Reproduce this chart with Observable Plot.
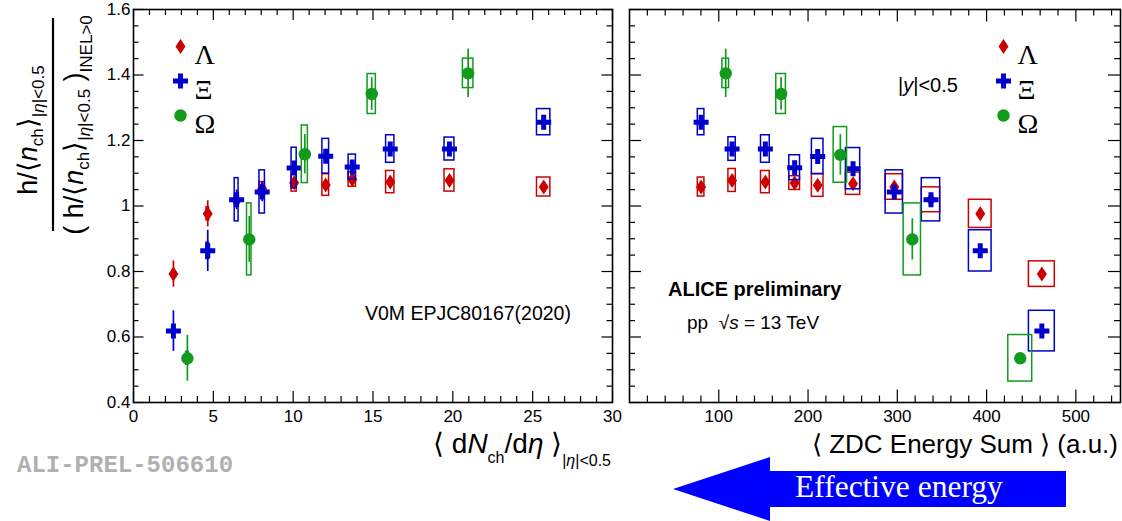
<!DOCTYPE html>
<html>
<head>
<meta charset="utf-8">
<script src="https://cdn.jsdelivr.net/npm/d3@7"></script>
<script src="https://cdn.jsdelivr.net/npm/@observablehq/plot@0.6"></script>
<style>
  html, body { margin: 0; padding: 0; background: #fff; }
  #chart { position: relative; width: 1122px; height: 521px; overflow: hidden; }
  #chart svg { position: absolute; }
</style>
</head>
<body>
<div id="chart"></div>
<script>
// ---- Strange hadron yields per charged particle, normalised to INEL>0 ----

// Left panel: V0M multiplicity classes, <dNch/deta> in |eta|<0.5
const v0mX    = [2.5, 4.65, 6.46, 8.06, 10.06, 12.04, 13.7, 16.08, 19.79, 25.69];
const v0mXErr = [0.05, 0.08, 0.12, 0.17, 0.16, 0.21, 0.23, 0.26, 0.31, 0.42];

const lambdaMultY    = [0.792, 0.976, 1.017, 1.053, 1.071, 1.064, 1.081, 1.073, 1.078, 1.058];
const lambdaMultStat = [0.040, 0.040, 0.020, 0.015, 0.010, 0.010, 0.010, 0.010, 0.010, 0.010];
const lambdaMultSys  = [0.012, 0.020, 0.020, 0.020, 0.027, 0.033, 0.022, 0.034, 0.034, 0.029];

const xiMultY    = [0.618, 0.863, 1.019, 1.043, 1.116, 1.152, 1.119, 1.174, 1.174, 1.256];
const xiMultStat = [0.062, 0.063, 0.030, 0.030, 0.020, 0.020, 0.020, 0.020, 0.020, 0.020];
const xiMultSys  = [0.015, 0.025, 0.066, 0.066, 0.062, 0.053, 0.038, 0.042, 0.035, 0.040];

const omegaMultX    = [3.375, 7.25, 10.73, 14.92, 20.96];
const omegaMultXErr = [0.08, 0.14, 0.19, 0.26, 0.33];
const omegaMultY    = [0.535, 0.898, 1.158, 1.342, 1.405];
const omegaMultStat = [0.070, 0.070, 0.060, 0.050, 0.074];
const omegaMultSys  = [0.020, 0.110, 0.088, 0.061, 0.045];

// Right panel: ZDC energy classes, <ZDC energy sum> (a.u.)
const zdcX    = [80.2, 114.9, 152.2, 185.0, 210.8, 250.4, 296.6, 337.7, 392.9, 461.9];
const zdcXErr = [3.7, 4.1, 4.9, 6.0, 6.5, 8.0, 9.7, 10.3, 12.7, 14.5];

const lambdaZdcY    = [1.058, 1.078, 1.073, 1.070, 1.063, 1.068, 1.058, 1.019, 0.976, 0.792];
const lambdaZdcStat = [0.010, 0.010, 0.010, 0.010, 0.010, 0.010, 0.010, 0.010, 0.012, 0.012];
const lambdaZdcSys  = [0.029, 0.035, 0.034, 0.021, 0.035, 0.034, 0.039, 0.038, 0.043, 0.039];

const xiZdcY    = [1.256, 1.174, 1.174, 1.117, 1.151, 1.114, 1.043, 1.019, 0.863, 0.618];
const xiZdcStat = [0.015, 0.015, 0.015, 0.015, 0.015, 0.015, 0.015, 0.015, 0.015, 0.015];
const xiZdcSys  = [0.040, 0.036, 0.042, 0.038, 0.054, 0.063, 0.066, 0.066, 0.063, 0.062];

const omegaZdcX    = [107.8, 169.8, 236.2, 316.8, 437.7];
const omegaZdcXErr = [3.7, 5.4, 7.5, 9.7, 13.4];
const omegaZdcY    = [1.405, 1.342, 1.156, 0.898, 0.535];
const omegaZdcStat = [0.074, 0.050, 0.062, 0.063, 0.015];
const omegaZdcSys  = [0.045, 0.061, 0.085, 0.110, 0.071];

// Axis ticks
const yMajor = [0.4, 0.6, 0.8, 1.0, 1.2, 1.4, 1.6];
const yMinor = d3.range(0.45, 1.6, 0.05).filter(v => Math.abs(v * 5 - Math.round(v * 5)) > 1e-6);
const multMajor = [0, 5, 10, 15, 20, 25, 30];
const multMinor = d3.range(1, 30).filter(v => v % 5 !== 0);
const zdcMajor = [100, 200, 300, 400, 500];
const zdcMinor = d3.range(20, 550, 20).filter(v => v % 100 !== 0);
const zdcLabels = [100, 200, 300, 400, 500];

const speciesNames = ["Λ", "Ξ", "Ω"];
const colors = ["#cc0000", "#0000cc", "#129a1c"];

const SANS = '"Liberation Sans", Arial, Helvetica, sans-serif';
const SERIF = '"Liberation Serif", "Times New Roman", serif';

// ROOT-like marker shapes (fixed pixel size)
const tallDiamond = { draw(c) { c.moveTo(0, -7.5); c.lineTo(5, 0); c.lineTo(0, 7.5); c.lineTo(-5, 0); c.closePath(); } };
const thickCross = { draw(c) {
  const L = 7.5, t = 2.5;
  c.moveTo(-t, -L); c.lineTo(t, -L); c.lineTo(t, -t); c.lineTo(L, -t); c.lineTo(L, t); c.lineTo(t, t);
  c.lineTo(t, L); c.lineTo(-t, L); c.lineTo(-t, t); c.lineTo(-L, t); c.lineTo(-L, -t); c.lineTo(-t, -t); c.closePath();
} };
const disc = { draw(c) { c.moveTo(6.2, 0); c.arc(0, 0, 6.2, 0, 2 * Math.PI); c.closePath(); } };
const symbols = [tallDiamond, thickCross, disc];

function rows(x, xe, y, stat, sys) {
  return x.map((v, i) => ({ x: v, xe: xe[i], y: y[i], stat: stat[i], sys: sys[i] }));
}

const multSeries = [
  rows(v0mX, v0mXErr, lambdaMultY, lambdaMultStat, lambdaMultSys),
  rows(v0mX, v0mXErr, xiMultY, xiMultStat, xiMultSys),
  rows(omegaMultX, omegaMultXErr, omegaMultY, omegaMultStat, omegaMultSys)
];
const zdcSeries = [
  rows(zdcX, zdcXErr, lambdaZdcY, lambdaZdcStat, lambdaZdcSys),
  rows(zdcX, zdcXErr, xiZdcY, xiZdcStat, xiZdcSys),
  rows(omegaZdcX, omegaZdcXErr, omegaZdcY, omegaZdcStat, omegaZdcSys)
];

function panel(o) {
  const fw = o.width - o.margin.left - o.margin.right;
  const fh = o.height - o.margin.top - o.margin.bottom;
  const marks = [];
  o.series.forEach((data, i) => {
    marks.push(Plot.rect(data, {
      x1: d => d.x - d.xe, x2: d => d.x + d.xe, y1: d => d.y - d.sys, y2: d => d.y + d.sys,
      fill: "none", stroke: colors[i], strokeWidth: 1.5
    }));
    marks.push(Plot.ruleX(data, { x: "x", y1: d => d.y - d.stat, y2: d => d.y + d.stat, stroke: colors[i], strokeWidth: 1.7 }));
    marks.push(Plot.dot(data, { x: "x", y: "y", symbol: symbols[i], r: 6, fill: colors[i], stroke: "none" }));
  });
  // legend
  speciesNames.forEach((name, i) => {
    marks.push(Plot.dot([name], { frameAnchor: "top-left", dx: o.legendDx, dy: 37 + 34.5 * i, symbol: symbols[i], r: 6, fill: colors[i], stroke: "none" }));
    marks.push(Plot.text([name], { frameAnchor: "top-left", dx: o.legendDx + 14, dy: 35 + 34.5 * i, textAnchor: "start", fontFamily: SERIF, fontSize: 28, fill: "black" }));
  });
  // frame and inward ticks on all four sides
  const tk = { stroke: "black", strokeWidth: 1.2 };
  marks.push(
    Plot.tickX(o.xMajor, { x: d => d, insetTop: fh - o.xMajorLen, ...tk }),
    Plot.tickX(o.xMajor, { x: d => d, insetBottom: fh - o.xMajorLen, ...tk }),
    Plot.tickX(o.xMinor, { x: d => d, insetTop: fh - o.xMinorLen, ...tk }),
    Plot.tickX(o.xMinor, { x: d => d, insetBottom: fh - o.xMinorLen, ...tk }),
    Plot.tickY(yMajor, { y: d => d, insetRight: fw - o.yMajorLen, ...tk }),
    Plot.tickY(yMajor, { y: d => d, insetLeft: fw - o.yMajorLen, ...tk }),
    Plot.tickY(yMinor, { y: d => d, insetRight: fw - o.yMinorLen, ...tk }),
    Plot.tickY(yMinor, { y: d => d, insetLeft: fw - o.yMinorLen, ...tk }),
    Plot.frame({ stroke: "black", strokeWidth: 1.6 }),
    Plot.axisX(o.xLabels, { anchor: "bottom", tickSize: 0, tickPadding: 7, fontSize: 17, label: null, tickFormat: d => String(d) })
  );
  if (o.yLabels) {
    marks.push(Plot.axisY(o.yLabels, { anchor: "left", tickSize: 0, tickPadding: 3, fontSize: 17, label: null, tickFormat: d => String(d) }));
  }
  const svg = Plot.plot({
    width: o.width, height: o.height,
    marginTop: o.margin.top, marginRight: o.margin.right, marginBottom: o.margin.bottom, marginLeft: o.margin.left,
    x: { domain: o.xDomain },
    y: { domain: [0.4, 1.6], axis: o.yLabels ? undefined : null },
    style: { fontFamily: SANS, color: "black", background: "transparent", overflow: "visible" },
    marks
  });
  svg.style.left = o.left + "px";
  svg.style.top = "0px";
  return svg;
}

const chart = document.getElementById("chart");

chart.appendChild(panel({
  left: 0, width: 620, height: 430, margin: { top: 9, right: 8, bottom: 28, left: 133 },
  xDomain: [0, 30], xMajor: multMajor, xMinor: multMinor, xLabels: multMajor, yLabels: yMajor,
  xMajorLen: 11, xMinorLen: 6, yMajorLen: 10.5, yMinorLen: 5.5,
  series: multSeries, legendDx: 47
}));

chart.appendChild(panel({
  left: 615, width: 507, height: 430, margin: { top: 9, right: 2, bottom: 28, left: 14 },
  xDomain: [0, 550], xMajor: zdcMajor, xMinor: zdcMinor, xLabels: zdcLabels, yLabels: null,
  xMajorLen: 12.5, xMinorLen: 6.5, yMajorLen: 12, yMinorLen: 6,
  series: zdcSeries, legendDx: 374
}));

// ---- titles, annotations and the energy arrow ----
const ov = d3.create("svg")
  .attr("width", 1122).attr("height", 521)
  .style("left", "0px").style("top", "0px")
  .attr("font-family", SANS).attr("fill", "black");

function rich(parent, x, y, parts, attrs = {}) {
  const t = parent.append("text").attr("x", x).attr("y", y).style("white-space", "pre");
  for (const [k, v] of Object.entries(attrs)) t.attr(k, v);
  for (const p of parts) {
    const s = t.append("tspan").text(p.t);
    if (p.size) s.attr("font-size", p.size);
    if (p.it) s.attr("font-style", "italic");
    if (p.dy) s.attr("dy", p.dy);
    if (p.dx) s.attr("dx", p.dx);
    if (p.font) s.attr("font-family", p.font);
  }
  return t;
}

// y-axis title: fraction, rotated
const yt = ov.append("g").attr("transform", "rotate(-90)");
rich(yt, -130, 37, [
  { t: "h/⟨", size: 27 },
  { t: "n", size: 27, it: true },
  { t: "ch", size: 17, dy: 6 },
  { t: "⟩", size: 27, dy: -6 },
  { t: "|", size: 17, dy: 7 },
  { t: "η", size: 17, it: true },
  { t: "|<0.5", size: 17 }
], { "text-anchor": "middle" });
ov.append("line").attr("x1", 53).attr("x2", 53).attr("y1", 18).attr("y2", 231)
  .attr("stroke", "black").attr("stroke-width", 2.2);
rich(yt, -125, 83, [
  { t: "( h/⟨", size: 27 },
  { t: "n", size: 27, it: true },
  { t: "ch", size: 17, dy: 6 },
  { t: "⟩", size: 27, dy: -6 },
  { t: "|", size: 17, dy: 7 },
  { t: "η", size: 17, it: true },
  { t: "|<0.5", size: 17 },
  { t: " )", size: 27, dy: -7 },
  { t: "INEL>0", size: 17, dy: 9 }
], { "text-anchor": "middle" });

// x-axis titles
rich(ov, 611, 453, [
  { t: "⟨ d", size: 28 },
  { t: "N", size: 28, it: true },
  { t: "ch", size: 16, dy: 10 },
  { t: "/d", size: 28, dy: -10 },
  { t: "η", size: 28, it: true },
  { t: " ⟩", size: 28 },
  { t: "|", size: 16, dy: 13 },
  { t: "η", size: 16, it: true },
  { t: "|<0.5", size: 16 }
], { "text-anchor": "end" });

rich(ov, 1118, 453, [{ t: "⟨ ZDC Energy Sum ⟩ (a.u.)", size: 26 }], { "text-anchor": "end" });

// in-panel annotations
rich(ov, 365, 320, [{ t: "V0M EPJC80167(2020)", size: 19.5 }]);
rich(ov, 898, 92, [{ t: "|", size: 20 }, { t: "y", size: 20, it: true }, { t: "|<0.5", size: 20 }]);
rich(ov, 668, 296, [{ t: "ALICE preliminary", size: 20 }], { "font-weight": "bold" });
rich(ov, 687, 329, [
  { t: "pp  √", size: 19 },
  { t: "s", size: 19, it: true },
  { t: " = 13 TeV", size: 19 }
]);

// preliminary figure label
rich(ov, 17, 472, [{ t: "ALI-PREL-506610", size: 24 }], {
  "font-family": '"Liberation Mono", "Courier New", monospace', "font-weight": "bold", fill: "#b0b0b0"
});

// arrow: effective energy grows to the left
const arrowPts = [[673, 489], [770, 457], [770, 471], [1066, 471], [1066, 507], [770, 507], [770, 521]];
ov.append("polygon").attr("points", arrowPts.map(p => p.join(",")).join(" ")).attr("fill", "#0000ff");
rich(ov, 795, 497, [{ t: "Effective energy", size: 31.5 }], { "font-family": SERIF, fill: "white" });

chart.appendChild(ov.node());
</script>
</body>
</html>
